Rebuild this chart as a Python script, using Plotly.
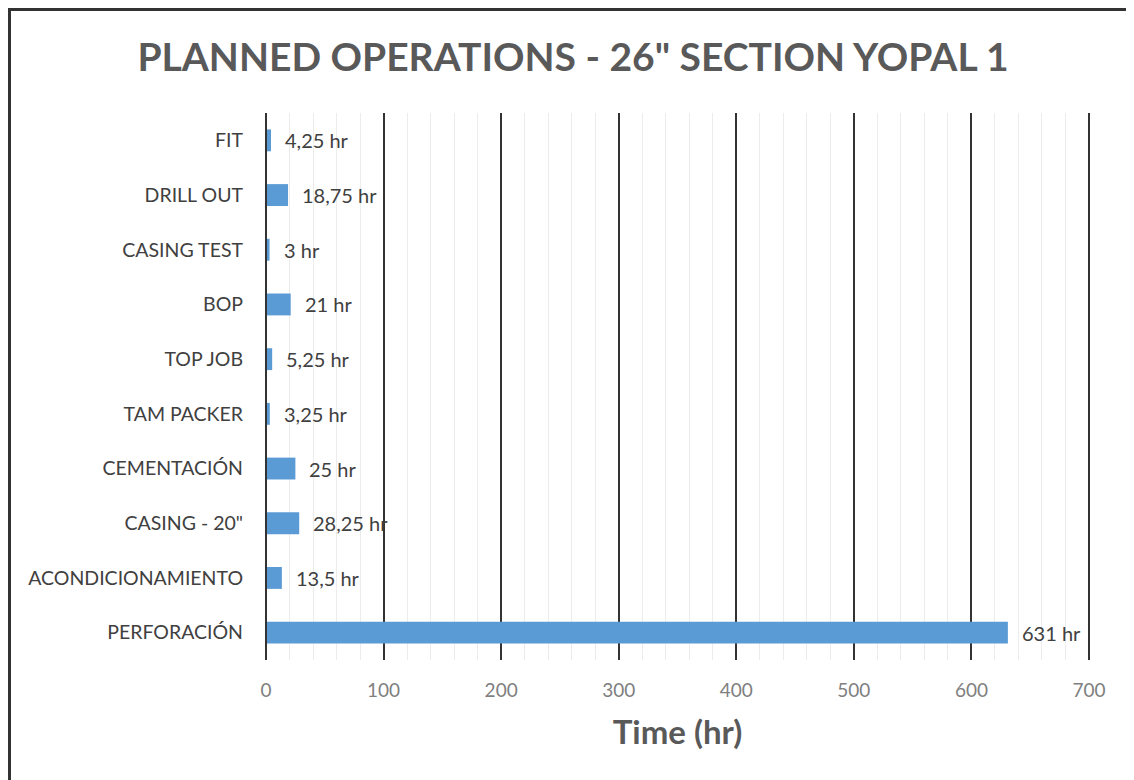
import plotly.graph_objects as go

# operations, listed bottom to top as they appear on the chart
operations = ["PERFORACIÓN", "ACONDICIONAMIENTO", "CASING - 20\"", "CEMENTACIÓN",
              "TAM PACKER", "TOP JOB", "BOP", "CASING TEST", "DRILL OUT", "FIT"]
hours = [631, 13.5, 28.25, 25, 3.25, 5.25, 21, 3, 18.75, 4.25]
hour_labels = ["631 hr", "13,5 hr", "28,25 hr", "25 hr", "3,25 hr", "5,25 hr",
               "21 hr", "3 hr", "18,75 hr", "4,25 hr"]

FONT = "Lato, 'Open Sans', sans-serif"

# page has an 8px body margin, so the figure is 8px smaller each way
W, H = 1126, 772
L, R, T, B = 258, 45, 105, 120
PW, PH = W - L - R, H - T - B


def px(fx):
    return (fx - L) / PW


def py(fy):
    return (H - B - fy) / PH


fig = go.Figure()
fig.add_trace(go.Bar(
    x=hours,
    y=operations,
    orientation="h",
    marker=dict(color="#5B9BD5", line=dict(width=0)),
    hoverinfo="skip",
))

# data labels, offset a bit from the bar end
for op, h, lab in zip(operations, hours, hour_labels):
    fig.add_annotation(x=h, y=op, text=lab, xanchor="left", yanchor="middle",
                       xshift=12, showarrow=False,
                       font=dict(family=FONT, size=20, color="#404040"))

fig.update_layout(
    width=W,
    height=H,
    paper_bgcolor="white",
    plot_bgcolor="white",
    margin=dict(l=L, r=R, t=T, b=B),
    bargap=0.6,
    showlegend=False,
    title=dict(
        text="<b>PLANNED OPERATIONS - 26\" SECTION YOPAL 1</b>",
        x=565 / W, xref="container", xanchor="center",
        y=1 - 49 / H, yref="container", yanchor="middle",
        font=dict(family=FONT, size=39, color="#595959"),
    ),
    xaxis=dict(
        range=[0, 700],
        dtick=100,
        showgrid=True,
        gridcolor="#333333",
        gridwidth=2,
        zeroline=False,
        showline=False,
        ticks="",
        ticklabelstandoff=17,
        tickfont=dict(family=FONT, size=19, color="#7f7f7f"),
        minor=dict(dtick=20, showgrid=True, gridcolor="#ececec", gridwidth=1),
        title=dict(text="<b>Time (hr)</b>", standoff=20,
                   font=dict(family=FONT, size=33, color="#595959")),
    ),
    yaxis=dict(
        showgrid=False,
        zeroline=False,
        showline=False,
        ticks="",
        ticklabelstandoff=22,
        tickfont=dict(family=FONT, size=19.5, color="#404040"),
    ),
)

# dark lines at 0 and 700 on the value axis
for xv in (0, 1):
    fig.add_shape(type="line", xref="paper", yref="paper", x0=xv, x1=xv, y0=0, y1=1,
                  line=dict(color="#333333", width=2))

# frame around the picture: dark on left and top, light on right
fig.add_shape(type="line", xref="paper", yref="paper",
              x0=px(1.5), x1=px(1.5), y0=py(H), y1=py(1.5),
              line=dict(color="#333333", width=3))
fig.add_shape(type="line", xref="paper", yref="paper",
              x0=px(0), x1=px(W), y0=py(1.5), y1=py(1.5),
              line=dict(color="#333333", width=3))
fig.add_shape(type="line", xref="paper", yref="paper",
              x0=px(1124), x1=px(1124), y0=py(H), y1=py(1.5),
              line=dict(color="#cccccc", width=2))

fig.write_html("out.html")
